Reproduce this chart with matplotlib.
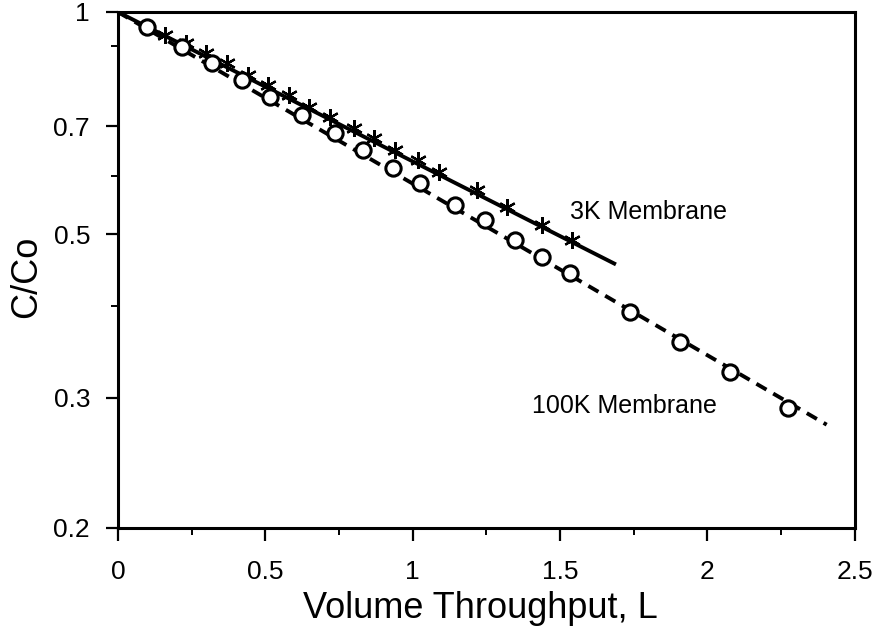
import matplotlib.pyplot as plt
from matplotlib.ticker import FixedLocator, NullFormatter
import numpy as np

plt.rcParams['font.family'] = ['Liberation Sans', 'DejaVu Sans']

# 3K membrane (stars) and its exponential fit
vol_3k = [0.10, 0.16, 0.23, 0.30, 0.37, 0.44, 0.51, 0.58, 0.65, 0.72,
          0.80, 0.87, 0.94, 1.02, 1.09, 1.22, 1.32, 1.44, 1.54]
conc_3k = [0.954, 0.931, 0.908, 0.880, 0.853, 0.822, 0.796, 0.772, 0.744, 0.721,
           0.696, 0.675, 0.650, 0.630, 0.607, 0.574, 0.544, 0.514, 0.491]
fit_x_3k = [0.0, 1.69]
fit_y_3k = [1.0, 0.455]

# 100K membrane (circles) and its exponential fit
vol_100k = [0.10, 0.217, 0.319, 0.421, 0.516, 0.624, 0.736, 0.831, 0.933, 1.024,
            1.143, 1.245, 1.347, 1.438, 1.533, 1.737, 1.906, 2.076, 2.273]
conc_100k = [0.954, 0.897, 0.853, 0.809, 0.767, 0.725, 0.686, 0.650, 0.615, 0.587,
             0.548, 0.523, 0.491, 0.466, 0.443, 0.392, 0.357, 0.325, 0.291]
fit_x_100k = [0.0, 2.405]
fit_y_100k = [1.0, 0.276]

y_major = [0.2, 0.3, 0.5, 0.7, 1.0]
y_major_labels = ['0.2', '0.3', '0.5', '0.7', '1']
y_minor = [0.4, 0.6, 0.9]
x_major = [0, 0.5, 1, 1.5, 2, 2.5]
x_major_labels = ['0', '0.5', '1', '1.5', '2', '2.5']
x_minor = [0.25, 0.75, 1.25, 1.75, 2.25]

fig = plt.figure(figsize=(8.73, 6.3), dpi=100)
ax = fig.add_axes([0.135, 0.162, 0.844, 0.819])

ax.plot(fit_x_3k, fit_y_3k, color='black', lw=2.8, solid_capstyle='butt')
ax.plot(vol_3k, conc_3k, ls='none', marker=(6, 2, 0), ms=12, mew=1.6, color='black')

ax.plot(fit_x_100k, fit_y_100k, color='black', lw=2.8, ls=(0, (3, 2)))
ax.plot(vol_100k, conc_100k, ls='none', marker='o', ms=11, mew=2.2,
        mfc='white', mec='black')

ax.text(1.533, 0.536, '3K Membrane', fontsize=18, va='center', ha='left')
ax.text(1.404, 0.293, '100K Membrane', fontsize=18, va='center', ha='left')

ax.set_yscale('log')
ax.set_xlim(0, 2.5)
ax.set_ylim(0.2, 1.0)

ax.yaxis.set_major_locator(FixedLocator(y_major))
ax.set_yticklabels(y_major_labels)
ax.yaxis.set_minor_locator(FixedLocator(y_minor))
ax.yaxis.set_minor_formatter(NullFormatter())
ax.set_xticks(x_major)
ax.set_xticklabels(x_major_labels)
ax.xaxis.set_minor_locator(FixedLocator(x_minor))

ax.tick_params(which='major', direction='out', length=9, width=1.6, labelsize=19)
ax.tick_params(axis='y', which='major', pad=11)
ax.tick_params(axis='x', which='major', pad=14)
ax.tick_params(which='minor', direction='out', length=5, width=1.4)

for s in ax.spines.values():
    s.set_linewidth(2.2)

ax.set_xlabel('Volume Throughput, L', fontsize=26)
ax.set_ylabel('C/Co', fontsize=26)
ax.xaxis.set_label_coords(0.492, -0.122)
ax.yaxis.set_label_coords(-0.1, 0.486)

fig.savefig('out.png', dpi=100)
